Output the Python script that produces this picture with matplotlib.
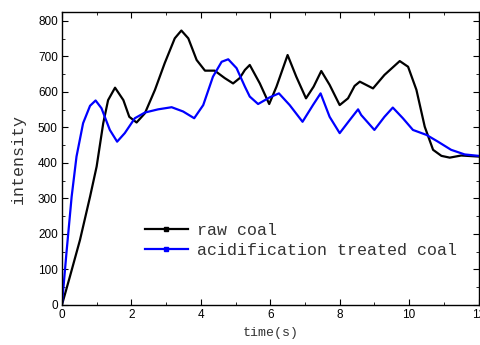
#!/usr/bin/env python3
"""Intensity vs time for raw coal and acidification treated coal."""

import matplotlib
matplotlib.use("Agg")
import matplotlib.pyplot as plt
from matplotlib.lines import Line2D
from matplotlib.ticker import MultipleLocator


# values
raw_t = [0.0, 0.23, 0.52, 0.81, 1.0, 1.19, 1.33, 1.53, 1.77, 1.94, 2.15,
         2.39, 2.68, 2.96, 3.25, 3.44, 3.64, 3.88, 4.12, 4.4, 4.69, 4.93,
         5.12, 5.27, 5.41, 5.7, 5.97, 6.18, 6.5, 6.75, 7.03, 7.25, 7.47,
         7.71, 8.0, 8.24, 8.43, 8.58, 8.96, 9.29, 9.73, 9.97, 10.21, 10.45,
         10.69, 10.93, 11.17, 11.5, 12.0]
raw_i = [0, 80, 183, 305, 390, 512, 577, 612, 577, 530, 514,
         540, 606, 681, 751, 773, 751, 690, 660, 660, 639, 624,
         639, 662, 676, 624, 566, 615, 704, 643, 582, 615, 659,
         620, 563, 582, 617, 629, 610, 648, 687, 671, 606, 502,
         437, 420, 415, 421, 418]

acid_t = [0.0, 0.13, 0.28, 0.42, 0.61, 0.81, 0.97, 1.14, 1.38, 1.59, 1.81,
          2.1, 2.39, 2.77, 3.16, 3.49, 3.81, 4.07, 4.35, 4.6, 4.79, 5.03,
          5.27, 5.41, 5.65, 5.99, 6.25, 6.56, 6.93, 7.23, 7.45, 7.71, 8.0,
          8.29, 8.53, 8.62, 9.0, 9.29, 9.53, 9.82, 10.11, 10.5, 10.83,
          11.21, 11.6, 12.0]
acid_i = [0, 146, 305, 418, 512, 561, 576, 554, 493, 460, 484,
          526, 542, 551, 557, 545, 526, 563, 643, 685, 692, 667,
          615, 587, 566, 585, 596, 563, 516, 563, 596, 530, 484,
          521, 551, 535, 493, 530, 556, 526, 493, 479, 460,
          437, 424, 420]

labels = ["raw coal", "acidification treated coal"]
colors = ["black", "#0000ff"]

MONO = "Liberation Mono"
SANS = "Liberation Sans"
TEXT_COLOR = "#333333"


def main() -> None:
    fig = plt.figure(figsize=(4.8, 3.45), dpi=100)
    ax = fig.add_axes([0.129, 0.116, 0.868, 0.848])

    ax.plot(raw_t, raw_i, color=colors[0], linewidth=1.6,
            solid_joinstyle="round")
    ax.plot(acid_t, acid_i, color=colors[1], linewidth=1.6,
            solid_joinstyle="round")

    ax.set_xlim(0, 12)
    ax.set_ylim(0, 824)
    ax.xaxis.set_major_locator(MultipleLocator(2))
    ax.xaxis.set_minor_locator(MultipleLocator(1))
    ax.yaxis.set_major_locator(MultipleLocator(100))
    ax.yaxis.set_minor_locator(MultipleLocator(50))
    ax.tick_params(which="both", direction="in", top=True, right=True,
                   labelsize=8.5, pad=3)
    ax.tick_params(which="major", length=4)
    ax.tick_params(which="minor", length=2)
    for lab in ax.get_xticklabels() + ax.get_yticklabels():
        lab.set_family(SANS)
    for sp in ax.spines.values():
        sp.set_linewidth(1.0)

    ax.set_xlabel("time(s)", family=MONO, fontsize=9.5, labelpad=4,
                  color=TEXT_COLOR)
    ax.set_ylabel("intensity", family=MONO, fontsize=12, labelpad=9,
                  color=TEXT_COLOR)

    handles = [
        Line2D([], [], color=c, linewidth=1.6, marker="s", markersize=2.5)
        for c in colors
    ]
    leg = ax.legend(handles, labels, loc="center left",
                    bbox_to_anchor=(0.199, 0.222), frameon=False,
                    prop={"family": MONO, "size": 12}, handlelength=2.6,
                    handletextpad=0.55, labelspacing=0.3, borderpad=0,
                    borderaxespad=0, numpoints=1)
    for txt in leg.get_texts():
        txt.set_color(TEXT_COLOR)

    fig.savefig("out.png", dpi=100)
    plt.close(fig)


if __name__ == "__main__":
    main()
